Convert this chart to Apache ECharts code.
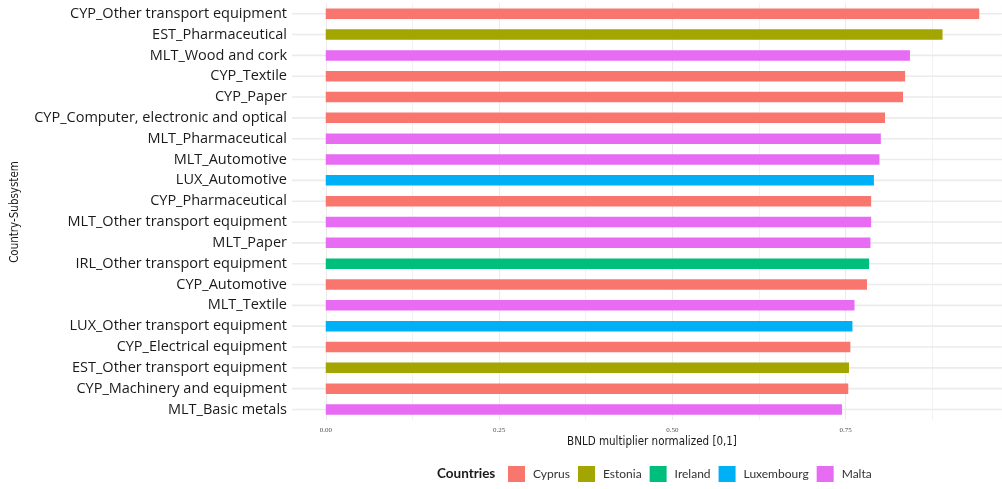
<!DOCTYPE html>
<html><head><meta charset="utf-8">
<script src="https://cdn.jsdelivr.net/npm/echarts@6/dist/echarts.min.js"></script>
<style>html,body{margin:0;padding:0;background:#fff}#c{width:1002px;height:489px}</style>
</head><body><div id="c"></div>
<script>
const categories = [
  'CYP_Other transport equipment','EST_Pharmaceutical','MLT_Wood and cork','CYP_Textile','CYP_Paper',
  'CYP_Computer, electronic and optical','MLT_Pharmaceutical','MLT_Automotive','LUX_Automotive','CYP_Pharmaceutical',
  'MLT_Other transport equipment','MLT_Paper','IRL_Other transport equipment','CYP_Automotive','MLT_Textile',
  'LUX_Other transport equipment','CYP_Electrical equipment','EST_Other transport equipment','CYP_Machinery and equipment','MLT_Basic metals'
];
const values = [0.943,0.890,0.843,0.836,0.833,0.807,0.801,0.799,0.791,0.787,0.787,0.786,0.784,0.781,0.763,0.760,0.757,0.755,0.754,0.745];
const countries = ['Cyprus','Estonia','Malta','Cyprus','Cyprus','Cyprus','Malta','Malta','Luxembourg','Cyprus',
  'Malta','Malta','Ireland','Cyprus','Malta','Luxembourg','Cyprus','Estonia','Cyprus','Malta'];
const countryNames = ['Cyprus','Estonia','Ireland','Luxembourg','Malta'];
const countryColors = ['#F8766D','#A3A500','#00BF7D','#00B0F6','#E76BF3'];
const xTickInterval = 0.25;

const chart = echarts.init(document.getElementById('c'), null, {renderer:'canvas'});
const TOP = 3.3, H = 416.6;
const LEFT = 325.75, UNIT = 693;
const xMax = (1002 - LEFT) / UNIT;
const dataSeries = countryNames.map((c, k) => ({
  name: c, type: 'bar', xAxisIndex: 0, yAxisIndex: 0,
  barWidth: 10.5, barGap: '-100%', z: 5,
  itemStyle: {color: countryColors[k]},
  data: values.map((v, i) => countries[i] === c ? v : '-')
}));
const option = {
  animation: false,
  color: countryColors,
  grid: [
    {left: LEFT, right: 0, top: TOP, height: H, containLabel: false},
    {left: 292, right: 0, top: TOP, height: H, containLabel: false}
  ],
  xAxis: [
    {type: 'value', gridIndex: 0, min: 0, max: xMax, interval: xTickInterval,
     axisLine: {show: false}, axisTick: {show: false},
     axisLabel: {margin: 7, fontFamily: 'Liberation Serif', fontSize: 7, color: '#4d4d4d',
       showMaxLabel: false, formatter: v => v.toFixed(2)},
     splitLine: {show: true, lineStyle: {color: '#ebebeb', width: 1.1}},
     minorTick: {show: false, splitNumber: 2},
     minorSplitLine: {show: true, lineStyle: {color: '#f0f0f0', width: 0.9}}
    },
    {type: 'value', gridIndex: 1, min: 0, max: 1, show: false}
  ],
  yAxis: [
    {type: 'category', gridIndex: 0, data: categories, inverse: true, show: false},
    {type: 'category', gridIndex: 1, data: categories, inverse: true,
     axisLine: {show: false}, axisTick: {show: false}, splitLine: {show: false},
     axisLabel: {margin: 5, fontFamily: 'Open Sans', fontSize: 14.5, color: '#1a1a1a'}}
  ],
  legend: {
    data: countryNames, left: 508, top: 466, orient: 'horizontal', padding: 0,
    icon: 'rect', itemWidth: 17, itemHeight: 16, itemGap: 8,
    textStyle: {fontFamily: 'Lato', fontSize: 12, color: '#333', padding: [0, 0, 0, 3]}
  },
  graphic: [
    {type: 'text', left: 437, top: 467, style: {text: 'Countries', fontFamily: 'Lato', fontWeight: 'bold', fontSize: 13.5, fill: '#1a1a1a'}},
    {type: 'text', x: 652, y: 442, style: {text: 'BNLD multiplier normalized [0,1]', fontFamily: 'Liberation Sans Narrow, DejaVu Sans Condensed, sans-serif', fontSize: 11.5, fill: '#1a1a1a', align: 'center', verticalAlign: 'middle'}},
    {type: 'text', x: 15, y: 212, rotation: Math.PI / 2, style: {text: 'Country-Subsystem', fontFamily: 'Liberation Sans Narrow, DejaVu Sans Condensed, sans-serif', fontSize: 11.5, fill: '#1a1a1a', align: 'center', verticalAlign: 'middle'}}
  ],
  series: [
    {type: 'bar', xAxisIndex: 1, yAxisIndex: 1, silent: true, z: 1, barWidth: 1.6,
     itemStyle: {color: '#ebebeb'}, data: categories.map(() => 1)}
  ].concat(dataSeries)
};
chart.setOption(option);
</script></body></html>
